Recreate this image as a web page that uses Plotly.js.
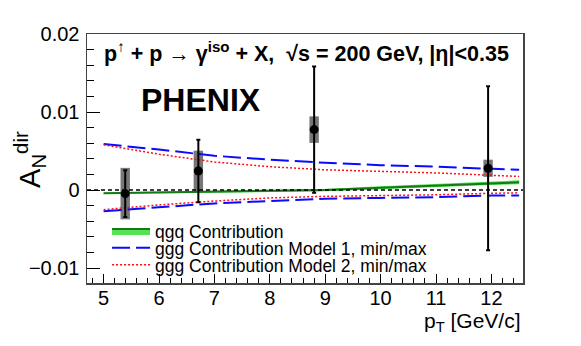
<!DOCTYPE html>
<html>
<head>
<meta charset="utf-8">
<script src="https://cdn.plot.ly/plotly-3.0.1.min.js"></script>
<style>
html, body { margin:0; padding:0; background:#fff; }
#chart { width:581px; height:346px; }
</style>
</head>
<body>
<div id="chart"></div>
<script>

/* ==========================================
   DATA
========================================== */

const ptBins = [5.39, 6.71, 8.80, 11.94];
const asymValues = [-0.00045, 0.00245, 0.00775, 0.0028];
const statErrors = [0.0030, 0.0040, 0.0081, 0.0105];
const sysErrors = [0.0033, 0.0026, 0.0017, 0.0011];

const curvePt = [5, 6, 7, 8, 9, 10, 11, 12, 12.5];

const qgqCentral = [-0.0004, -0.0003, -0.0002, -0.0001, 0.0000, 0.0003, 0.0006, 0.0009, 0.0010];
const qgqLow = [-0.0005, -0.0004, -0.0003, -0.0002, -0.00015, 0.0001, 0.0004, 0.00065, 0.00075];
const qgqHigh = [-0.0003, -0.0002, -0.0001, 0.0000, 0.00015, 0.0005, 0.0008, 0.00115, 0.00125];

const model1Max = [0.0059, 0.0052, 0.0044, 0.0039, 0.0035, 0.0032, 0.0030, 0.0027, 0.0026];
const model1Min = [-0.0027, -0.0022, -0.0017, -0.0014, -0.0011, -0.0010, -0.0009, -0.0007, -0.0007];

const model2Max = [0.0058, 0.0046, 0.0036, 0.0030, 0.0026, 0.0024, 0.0022, 0.0019, 0.00175];
const model2Min = [-0.0025, -0.0019, -0.0014, -0.0010, -0.0008, -0.0007, -0.0006, -0.0004, -0.00035];

const yTickVals = [-0.01, 0, 0.01, 0.02];
const yTickText = ["\u22120.01", "0", "0.01", "0.02"];

const FONT = "Liberation Sans, Arial, Helvetica, sans-serif";


/* ==========================================
   TRACES
========================================== */

function buildTraces(){

    const sysBox = {
        type:"bar",
        x:ptBins,
        y:sysErrors.map(s=>2*s),
        base:asymValues.map((v,i)=>v - sysErrors[i]),
        width:0.17,
        marker:{color:"rgba(85,85,85,0.8)", line:{width:0}},
        showlegend:false,
        hoverinfo:"skip"
    };

    const qgqLower = {
        x:curvePt, y:qgqLow, mode:"lines",
        line:{width:0, color:"rgba(0,0,0,0)"},
        showlegend:false, hoverinfo:"skip"
    };

    const qgqMid = {
        x:curvePt, y:qgqCentral, mode:"lines",
        name:"qgq Contribution",
        fill:"tonexty",
        fillcolor:"rgba(40,220,40,0.8)",
        line:{color:"#157a15", width:2},
        legend:"legend"
    };

    const qgqUpper = {
        x:curvePt, y:qgqHigh, mode:"lines",
        fill:"tonexty",
        fillcolor:"rgba(40,220,40,0.8)",
        line:{width:0, color:"rgba(0,0,0,0)"},
        showlegend:false, hoverinfo:"skip"
    };

    const m1Up = {
        x:curvePt, y:model1Max, mode:"lines",
        name:"ggg Contribution Model 1, min/max",
        line:{color:"#0a0aff", width:2, dash:"18px,6px"},
        legend:"legend2"
    };

    const m1Down = {
        x:curvePt, y:model1Min, mode:"lines",
        line:{color:"#0a0aff", width:2, dash:"18px,6px"},
        showlegend:false
    };

    const m2Up = {
        x:curvePt, y:model2Max, mode:"lines",
        name:"ggg Contribution Model 2, min/max",
        line:{color:"#ff1010", width:1.5, dash:"2px,2px"},
        legend:"legend3"
    };

    const m2Down = {
        x:curvePt, y:model2Min, mode:"lines",
        line:{color:"#ff1010", width:1.5, dash:"2px,2px"},
        showlegend:false
    };

    const points = {
        x:ptBins, y:asymValues, mode:"markers",
        marker:{color:"#000", size:9},
        error_y:{type:"data", array:statErrors, visible:true, color:"#000", thickness:2, width:2},
        showlegend:false
    };

    return [sysBox, qgqLower, qgqMid, qgqUpper, m1Up, m1Down, m2Up, m2Down, points];

}


/* ==========================================
   LAYOUT
========================================== */

function legendAt(yPos){

    return {
        x:0.046, xanchor:"left",
        y:yPos, yanchor:"middle",
        bgcolor:"rgba(0,0,0,0)",
        borderwidth:0,
        itemwidth:38,
        font:{family:FONT, size:17.5, color:"#000"}
    };

}

function buildLayout(){

    return {
        width:581,
        height:346,
        margin:{l:87, r:58, t:34, b:63},
        paper_bgcolor:"#fff",
        plot_bgcolor:"#fff",
        barmode:"overlay",
        font:{family:FONT, color:"#000"},
        xaxis:{
            range:[4.7, 12.57],
            tick0:5, dtick:1,
            ticks:"inside", ticklen:9, tickwidth:1, tickcolor:"#000",
            minor:{dtick:0.2, ticks:"inside", ticklen:5, tickcolor:"#000", showgrid:false},
            showgrid:false, zeroline:false,
            showline:true, mirror:true, linecolor:"#444", linewidth:1.5,
            tickfont:{family:FONT, size:20},
            ticklabelstandoff:-4
        },
        yaxis:{
            range:[-0.0119, 0.02],
            tickvals:yTickVals, ticktext:yTickText,
            ticks:"inside", ticklen:13, tickwidth:1, tickcolor:"#000",
            minor:{dtick:0.002, tick0:0, ticks:"inside", ticklen:7, tickcolor:"#000", showgrid:false},
            showgrid:false, zeroline:false,
            showline:true, mirror:true, linecolor:"#444", linewidth:1.5,
            tickfont:{family:FONT, size:20},
            ticklabelstandoff:2
        },
        legend:legendAt(0.2088),
        legend2:legendAt(0.1406),
        legend3:legendAt(0.0723),
        shapes:[
            {
                type:"line", xref:"paper", yref:"y",
                x0:0, x1:1, y0:0, y1:0,
                line:{color:"#000", width:1.5, dash:"4px,3px"}
            }
        ],
        annotations:[
            {
                xref:"paper", yref:"paper", x:0.034, y:0.926,
                xanchor:"left", yanchor:"middle", showarrow:false,
                text:"<b>p<sup>\u2191</sup> + p \u2192 \u03b3<sup>iso</sup> + X,  \u221as = 200 GeV, |\u03b7|<0.35</b>",
                font:{family:FONT, size:21.5, color:"#000"}
            },
            {
                xref:"paper", yref:"paper", x:0.2626, y:0.735,
                xanchor:"center", yanchor:"middle", showarrow:false,
                text:"<b>PHENIX</b>",
                font:{family:FONT, size:32, color:"#000"}
            },
            {
                xref:"paper", yref:"paper", x:-0.131, y:0.498,
                xanchor:"center", yanchor:"middle", showarrow:false,
                textangle:-90,
                text:"A<sub>N</sub><sup>dir</sup>",
                font:{family:FONT, size:29, color:"#000"}
            },
            {
                xref:"paper", yref:"paper", x:1, y:-0.157,
                xanchor:"right", yanchor:"middle", showarrow:false,
                text:"p<sub>T</sub> [GeV/c]",
                font:{family:FONT, size:21, color:"#000"}
            }
        ]
    };

}


/* ==========================================
   DRAW
========================================== */

Plotly.newPlot("chart", buildTraces(), buildLayout(), {staticPlot:true});

</script>
</body>
</html>
